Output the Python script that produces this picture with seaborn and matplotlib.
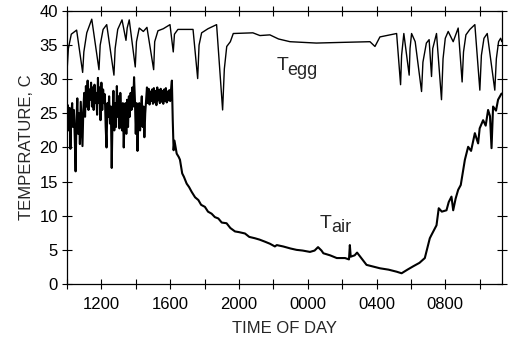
import numpy as np
import pandas as pd

import matplotlib
matplotlib.use('Agg')
import matplotlib.pyplot as plt
import seaborn as sns

sns.set_style('ticks')
plt.rcParams['font.family'] = ['Liberation Sans', 'DejaVu Sans']

# Egg temperature (hours since midnight of first day, deg C)
egg_hours = [10.0, 10.08, 10.25, 10.56, 10.91, 10.98, 11.15, 11.44, 11.86, 11.93,
             12.1, 12.31, 12.73, 12.8, 12.95, 13.2, 13.43, 13.5, 13.62, 13.97,
             14.04, 14.2, 14.44, 14.65, 15.04, 15.1, 15.29, 15.6, 15.99, 16.18,
             16.25, 16.45, 17.33, 17.6, 17.68, 17.83, 18.2, 18.7, 19.05, 19.15,
             19.29, 19.5, 19.67, 20.81, 21.22, 21.8, 22.3, 22.97, 24.5, 26.0,
             27.62, 27.91, 28.2, 29.17, 29.4, 29.46, 29.59, 29.9, 29.95, 30.04,
             30.25, 30.62, 30.7, 30.9, 31.06, 31.2, 31.27, 31.49, 31.78, 31.87,
             32.0, 32.17, 32.46, 32.75, 32.98, 33.06, 33.2, 33.43, 33.72, 34.01,
             34.1, 34.25, 34.44, 34.88, 34.97, 35.1, 35.22, 35.29]
egg_temp = [31.1, 34.5, 36.6, 37.2, 31.0, 34.0, 36.8, 38.8, 31.4, 35.0,
            37.3, 38.0, 30.6, 34.5, 37.3, 38.7, 35.7, 37.5, 38.7, 31.8,
            35.5, 37.5, 37.0, 37.6, 31.4, 35.5, 37.1, 37.4, 38.0, 34.0,
            36.6, 37.3, 37.3, 30.1, 35.0, 36.8, 37.4, 38.0, 25.5, 31.5,
            34.8, 35.5, 36.7, 36.8, 36.4, 36.5, 35.9, 35.5, 35.3, 35.4,
            35.5, 34.8, 36.2, 36.7, 29.2, 33.5, 36.7, 30.6, 34.5, 36.7,
            35.5, 28.2, 32.5, 35.3, 35.8, 30.4, 34.5, 36.7, 27.0, 33.0,
            36.0, 37.0, 35.5, 37.5, 29.6, 34.0, 36.5, 37.3, 38.0, 28.4,
            33.5, 36.0, 36.7, 28.4, 33.0, 35.5, 36.0, 35.5]

# Air temperature
air_hours = [10.0, 10.05, 10.1, 10.15, 10.2, 10.25, 10.3, 10.35, 10.4, 10.45,
             10.5, 10.55, 10.6, 10.65, 10.7, 10.75, 10.8, 10.85, 10.9, 10.95,
             11.0, 11.05, 11.1, 11.15, 11.2, 11.25, 11.3, 11.35, 11.4, 11.45,
             11.5, 11.55, 11.6, 11.65, 11.7, 11.75, 11.8, 11.85, 11.9, 11.95,
             12.0, 12.05, 12.1, 12.15, 12.2, 12.25, 12.3, 12.35, 12.4, 12.45,
             12.5, 12.55, 12.6, 12.65, 12.7, 12.75, 12.8, 12.85, 12.9, 12.95,
             13.0, 13.05, 13.1, 13.15, 13.2, 13.25, 13.3, 13.35, 13.4, 13.45,
             13.5, 13.55, 13.6, 13.65, 13.7, 13.75, 13.8, 13.85, 13.9, 13.95,
             14.0, 14.05, 14.1, 14.15, 14.2, 14.25, 14.3, 14.35, 14.4, 14.45,
             14.5, 14.55, 14.6, 14.65, 14.7, 14.75, 14.8, 14.85, 14.9, 14.95,
             15.0, 15.05, 15.1, 15.15, 15.2, 15.25, 15.3, 15.35, 15.4, 15.45,
             15.5, 15.55, 15.6, 15.65, 15.7, 15.75, 15.8, 15.85, 15.9, 15.95,
             16.0, 16.05, 16.1, 16.15, 16.2, 16.25, 16.38, 16.5, 16.57, 16.7,
             16.8, 16.96, 17.1, 17.25, 17.45, 17.64, 17.8, 18.02, 18.2, 18.41,
             18.6, 18.8, 19.0, 19.28, 19.5, 19.77, 20.0, 20.35, 20.6, 20.93,
             21.2, 21.51, 21.8, 22.09, 22.2, 22.57, 23.0, 23.35, 23.7, 24.13,
             24.4, 24.6, 24.8, 24.91, 25.3, 25.69, 26.17, 26.4, 26.45, 26.5,
             26.73, 26.87, 27.42, 28.2, 28.7, 29.17, 29.46, 29.8, 30.14, 30.5,
             30.81, 31.1, 31.2, 31.49, 31.62, 31.8, 32.07, 32.2, 32.36, 32.46,
             32.6, 32.75, 32.9, 33.04, 33.14, 33.33, 33.5, 33.72, 33.91, 34.0,
             34.2, 34.35, 34.49, 34.6, 34.69, 34.78, 34.95, 35.07, 35.27]
air_temp = [24.0, 26.2, 22.5, 25.8, 19.8, 24.6, 26.5, 23.0, 25.5, 21.5,
            16.5, 24.0, 27.2, 22.0, 25.0, 20.5, 26.7, 23.5, 20.2, 25.5,
            28.0, 24.5, 29.0, 26.0, 29.8, 25.5, 28.5, 27.0, 29.5, 26.0,
            28.8, 25.5, 29.2, 26.5, 28.0, 24.8, 30.2, 26.5, 28.8, 24.0,
            29.5, 25.5, 28.5, 26.5, 27.8, 23.0, 20.0, 26.5, 24.5, 27.5,
            23.5, 26.0, 17.0, 24.5, 28.3, 22.5, 26.5, 23.0, 29.0, 24.5,
            27.5, 22.8, 28.0, 25.0, 22.5, 26.5, 20.0, 24.5, 26.5, 22.0,
            27.0, 23.0, 27.5, 24.5, 28.0, 25.5, 28.8, 26.0, 30.3, 27.0,
            22.0, 26.5, 19.5, 24.0, 26.5, 22.5, 25.5, 27.5, 23.0, 26.0,
            21.5, 25.0, 27.0, 28.8, 26.5, 28.6, 26.3, 28.2, 26.8, 28.5,
            26.4, 28.7, 26.6, 28.3, 26.2, 28.8, 26.9, 28.4, 26.5, 28.6,
            26.7, 28.3, 26.4, 28.5, 26.8, 28.7, 26.6, 28.2, 26.9, 28.4,
            26.8, 28.5, 29.8, 24.0, 19.6, 21.0, 19.1, 18.6, 18.2, 16.2,
            15.7, 14.7, 14.2, 13.5, 12.7, 12.3, 11.6, 11.3, 10.6, 10.3,
            9.8, 9.6, 9.0, 8.9, 8.2, 7.7, 7.6, 7.4, 6.9, 6.7,
            6.5, 6.2, 5.9, 5.5, 5.7, 5.5, 5.2, 5.0, 4.9, 4.7,
            4.9, 5.4, 4.9, 4.5, 4.2, 3.8, 3.8, 3.6, 5.7, 4.0,
            4.2, 4.6, 2.8, 2.3, 2.1, 1.8, 1.57, 2.1, 2.6, 3.1,
            3.8, 6.7, 7.2, 8.6, 11.1, 10.6, 10.8, 12.0, 12.8, 10.8,
            12.5, 13.8, 14.5, 16.7, 18.2, 20.1, 19.5, 22.1, 20.6, 22.8,
            24.0, 23.2, 25.5, 24.6, 19.9, 26.0, 25.4, 27.0, 27.9]

tick_hours = [10, 12, 14, 16, 18, 20, 22, 24, 26, 28, 30, 32, 34]
tick_labels = ['', '1200', '', '1600', '', '2000', '', '0000', '', '0400', '', '0800', '']
y_ticks = [0, 5, 10, 15, 20, 25, 30, 35, 40]

egg = pd.DataFrame({'hour': egg_hours, 'temp': egg_temp})
air = pd.DataFrame({'hour': air_hours, 'temp': air_temp})

fig = plt.figure(figsize=(5.13, 3.38), dpi=100)
ax = fig.add_axes([0.1306, 0.1598, 0.848, 0.8077])

sns.lineplot(data=egg, x='hour', y='temp', ax=ax, color='black', lw=1.0, sort=False)
sns.lineplot(data=air, x='hour', y='temp', ax=ax, color='black', lw=1.5, sort=False)

ax.set_xlim(10, 35.3)
ax.set_ylim(0, 40)
ax.set_xticks(tick_hours)
ax.set_xticklabels(tick_labels)
ax.set_yticks(y_ticks)
ax.tick_params(direction='inout', length=7, width=0.8, labelsize=12,
               top=True, right=True, colors='black')
ax.tick_params(axis='x', pad=6)
ax.tick_params(axis='y', pad=3)
for s in ax.spines.values():
    s.set_linewidth(0.9)
    s.set_color('black')

ax.set_xlabel('TIME OF DAY', fontsize=12, labelpad=6)
ax.set_ylabel('TEMPERATURE, C', fontsize=12, labelpad=4)

ax.text(22.2, 31.35, 'T', fontsize=14, va='baseline', ha='left')
ax.text(22.82, 30.6, 'egg', fontsize=13, va='baseline', ha='left')
ax.text(24.7, 8.16, 'T', fontsize=14, va='baseline', ha='left')
ax.text(25.35, 7.66, 'air', fontsize=13, va='baseline', ha='left')

fig.savefig('out.png', dpi=100)
